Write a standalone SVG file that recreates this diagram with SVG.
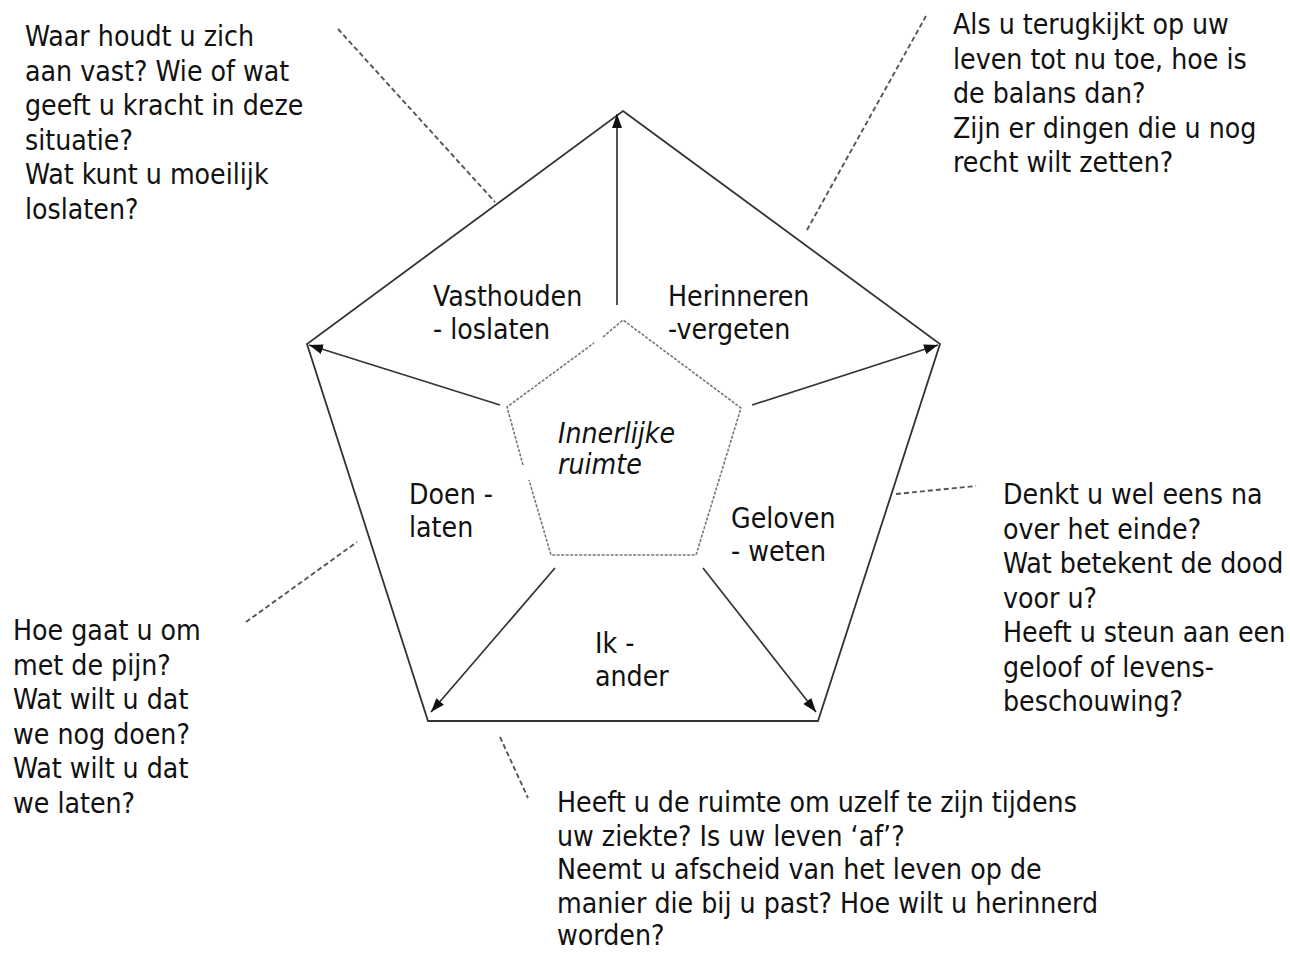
<svg xmlns="http://www.w3.org/2000/svg" width="1290" height="953" viewBox="0 0 1290 953">
<style>
  text { font-family: "DejaVu Sans Condensed", "DejaVu Sans", "Liberation Sans", sans-serif; font-stretch: condensed; font-size: 28.2px; fill: #111; }
  .it { font-style: italic; }
  .outer { fill: none; stroke: #333; stroke-width: 1.8; stroke-linejoin: miter; }
  .inner { fill: none; stroke: #777; stroke-width: 1.6; stroke-dasharray: 3 1.5; }
  .arrow { fill: none; stroke: #333; stroke-width: 1.7; marker-end: url(#ah); }
  .lead { fill: none; stroke: #555; stroke-width: 1.9; stroke-dasharray: 5 3; }
</style>
<defs>
  <marker id="ah" viewBox="0 0 14 10" refX="14" refY="5" markerWidth="14" markerHeight="10" markerUnits="userSpaceOnUse" orient="auto">
    <path d="M0,0 L14,5 L0,10 Z" fill="#111"/>
  </marker>
</defs>
<rect width="1290" height="953" fill="#fff"/>

<g id="outer-pentagon">
  <polygon class="outer" points="623,111 940,344 818,721 428,721 307,344"/>
</g>
<g id="inner-pentagon">
  <polyline class="inner" points="603,337 623,320 741,408 696,555 551,555 529,480"/>
  <polyline class="inner" points="523,465 507,407 594,343"/>
  <text class="it" x="558" y="443">Innerlijke</text>
  <text class="it" x="558" y="474">ruimte</text>
</g>

<g id="connectors">
  <line class="arrow" x1="617" y1="305" x2="617" y2="114"/>
  <line class="arrow" x1="752" y1="405" x2="938" y2="345"/>
  <line class="arrow" x1="500" y1="405" x2="309" y2="345"/>
  <line class="arrow" x1="703" y1="568" x2="816" y2="712"/>
  <line class="arrow" x1="555" y1="568" x2="431" y2="712"/>
  <line class="lead" x1="338" y1="29" x2="495" y2="202"/>
  <line class="lead" x1="926" y1="16" x2="807" y2="230"/>
  <line class="lead" x1="896" y1="494" x2="976" y2="486"/>
  <line class="lead" x1="246" y1="622" x2="357" y2="542"/>
  <line class="lead" x1="500" y1="737" x2="528" y2="798"/>
</g>

<g id="label-vasthouden">
  <text x="433" y="306">Vasthouden</text>
  <text x="433" y="339">- loslaten</text>
</g>
<g id="label-herinneren">
  <text x="668" y="306">Herinneren</text>
  <text x="668" y="339">-vergeten</text>
</g>
<g id="label-doen">
  <text x="409" y="504">Doen -</text>
  <text x="409" y="537">laten</text>
</g>
<g id="label-geloven">
  <text x="731" y="528">Geloven</text>
  <text x="731" y="561">- weten</text>
</g>
<g id="label-ik">
  <text x="595" y="653">Ik -</text>
  <text x="595" y="686">ander</text>
</g>

<g id="q-top-left">
  <text x="25" y="46">Waar houdt u zich</text>
  <text x="25" y="80.5">aan vast? Wie of wat</text>
  <text x="25" y="115">geeft u kracht in deze</text>
  <text x="25" y="149.5">situatie?</text>
  <text x="25" y="184">Wat kunt u moeilijk</text>
  <text x="25" y="218.5">loslaten?</text>
</g>
<g id="q-top-right">
  <text x="953" y="34">Als u terugkijkt op uw</text>
  <text x="953" y="68.5">leven tot nu toe, hoe is</text>
  <text x="953" y="103">de balans dan?</text>
  <text x="953" y="137.5">Zijn er dingen die u nog</text>
  <text x="953" y="172">recht wilt zetten?</text>
</g>
<g id="q-right">
  <text x="1003" y="504">Denkt u wel eens na</text>
  <text x="1003" y="538.5">over het einde?</text>
  <text x="1003" y="573">Wat betekent de dood</text>
  <text x="1003" y="607.5">voor u?</text>
  <text x="1003" y="642">Heeft u steun aan een</text>
  <text x="1003" y="676.5">geloof of levens-</text>
  <text x="1003" y="711">beschouwing?</text>
</g>
<g id="q-left">
  <text x="13" y="640">Hoe gaat u om</text>
  <text x="13" y="674.5">met de pijn?</text>
  <text x="13" y="709">Wat wilt u dat</text>
  <text x="13" y="743.5">we nog doen?</text>
  <text x="13" y="778">Wat wilt u dat</text>
  <text x="13" y="812.5">we laten?</text>
</g>
<g id="q-bottom">
  <text x="557" y="812">Heeft u de ruimte om uzelf te zijn tijdens</text>
  <text x="557" y="845.5">uw ziekte? Is uw leven ‘af’?</text>
  <text x="557" y="879">Neemt u afscheid van het leven op de</text>
  <text x="557" y="912.5">manier die bij u past? Hoe wilt u herinnerd</text>
  <text x="557" y="945">worden?</text>
</g>
</svg>
